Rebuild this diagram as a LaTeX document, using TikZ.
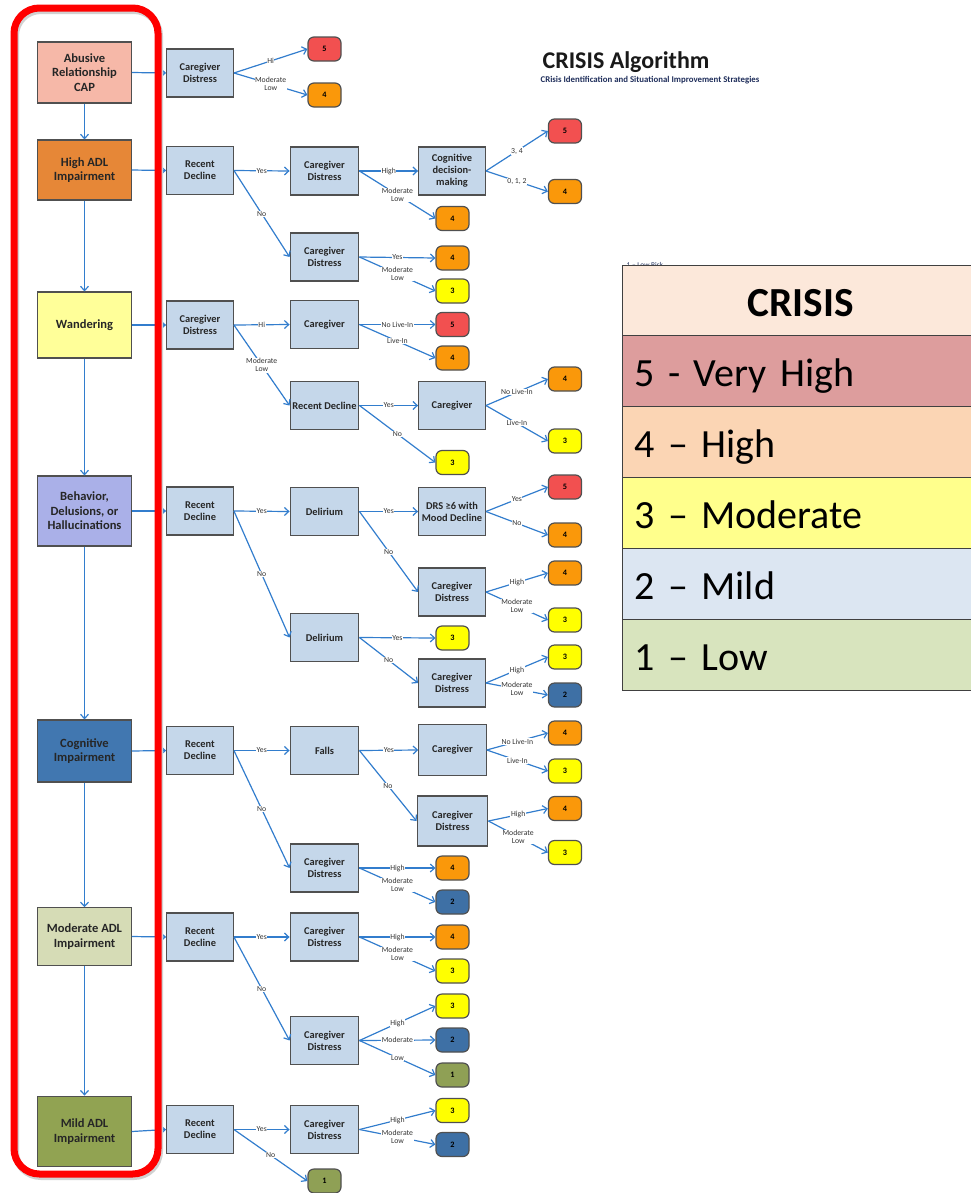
\documentclass[tikz,border=0pt]{standalone}
\usepackage{fontspec}
\setmainfont{Carlito}
\usetikzlibrary{arrows.meta}

% palette
\definecolor{qblue}{RGB}{197,215,234}
\definecolor{boxline}{RGB}{80,80,80}
\definecolor{flowblue}{RGB}{50,125,205}
\definecolor{framered}{RGB}{255,0,0}
\definecolor{cabuse}{RGB}{246,184,168}
\definecolor{chigh}{RGB}{230,135,55}
\definecolor{cwander}{RGB}{255,255,153}
\definecolor{cbehav}{RGB}{170,176,232}
\definecolor{ccogn}{RGB}{65,119,176}
\definecolor{cmod}{RGB}{214,220,182}
\definecolor{cmild}{RGB}{145,163,82}
\definecolor{sfive}{RGB}{242,80,80}
\definecolor{sfour}{RGB}{250,152,10}
\definecolor{sthree}{RGB}{255,255,0}
\definecolor{stwo}{RGB}{62,112,165}
\definecolor{sone}{RGB}{143,160,85}
\definecolor{lhead}{RGB}{252,232,218}
\definecolor{lfive}{RGB}{221,157,157}
\definecolor{lfour}{RGB}{251,213,180}
\definecolor{lthree}{RGB}{255,255,140}
\definecolor{ltwo}{RGB}{220,230,242}
\definecolor{lone}{RGB}{216,228,190}
\definecolor{navy}{RGB}{30,45,90}

\begin{document}
\begin{tikzpicture}[x=0.75pt,y=-0.75pt,
  qbox/.style={rectangle, draw=boxline, line width=0.9pt, fill=qblue,
    minimum width=50pt, minimum height=36pt, inner sep=1pt, align=center,
    font=\bfseries\fontsize{7.8}{8.9}\selectfont, text=black!85},
  widebox/.style={qbox, minimum width=51.5pt},
  catbox/.style={rectangle, draw=boxline, line width=0.9pt, minimum width=70pt,
    inner sep=1pt, align=center, font=\bfseries\fontsize{9.4}{10.8}\selectfont,
    text=black!85},
  score/.style={rectangle, rounded corners=4.5pt, draw=boxline, line width=0.9pt,
    minimum width=24.75pt, minimum height=18pt, inner sep=0pt,
    font=\bfseries\fontsize{6.2}{7}\selectfont},
  s5/.style={score, fill=sfive}, s4/.style={score, fill=sfour},
  s3/.style={score, fill=sthree}, s2/.style={score, fill=stwo},
  s1/.style={score, fill=sone},
  flow/.style={draw=flowblue, line width=0.9pt, -{Straight Barb[length=3.2pt,width=6pt]}},
  lbl/.style={fill=white, inner sep=0.4pt, align=center,
    font=\fontsize{5.8}{6}\selectfont, text=black!80},
  legrow/.style={rectangle, draw=black!75, line width=1.1pt, anchor=north west,
    minimum width=267pt, minimum height=53.25pt, inner xsep=9pt, inner ysep=0pt,
    text width=249pt, align=left, text height=24pt, text depth=0pt,
    font=\fontsize{30}{35}\selectfont}
]
\useasboundingbox (0,0) rectangle (971,1193);

% ---------- title ----------
\node[anchor=base, font=\bfseries\fontsize{18}{20}\selectfont, text=black!90] (title) at (626,68) {CRISIS Algorithm};
\node[anchor=base, font=\bfseries\fontsize{6.6}{7}\selectfont, text=navy] (subtitle) at (650,82) {CRisis Identification and Situational Improvement Strategies};

% ---------- category column ----------
\node[catbox, fill=cabuse, minimum height=45.75pt] (abuse) at (84.5,72.5) {Abusive\\Relationship\\CAP};
\node[catbox, fill=chigh, minimum height=45pt] (highadl) at (84.5,170) {High ADL\\Impairment};
\node[catbox, fill=cwander, minimum height=49.5pt] (wander) at (84.5,325) {Wandering};
\node[catbox, fill=cbehav, minimum height=52.5pt] (behav) at (84.5,511) {Behavior,\\Delusions, or\\Hallucinations};
\node[catbox, fill=ccogn, minimum height=46.5pt] (cogn) at (84.5,751) {Cognitive\\Impairment};
\node[catbox, fill=cmod, minimum height=43pt] (modadl) at (84.5,936.5) {Moderate ADL\\Impairment};
\node[catbox, fill=cmild, minimum height=53pt] (mildadl) at (84.5,1131.5) {Mild ADL\\Impairment};

\draw[flow] (abuse) -- (highadl);
\draw[flow] (highadl) -- (wander);
\draw[flow] (wander) -- (behav);
\draw[flow] (behav) -- (cogn);
\draw[flow] (cogn) -- (modadl);
\draw[flow] (modadl) -- (mildadl);

% ---------- second column ----------
\node[qbox] (cd1) at (200,73) {Caregiver\\Distress};
\node[qbox] (rd2) at (200,170.5) {Recent\\Decline};
\node[qbox] (cd3) at (200,325) {Caregiver\\Distress};
\node[qbox] (rd4) at (200,511) {Recent\\Decline};
\node[qbox] (rd5) at (200,750.5) {Recent\\Decline};
\node[qbox] (rd6) at (200,937) {Recent\\Decline};
\node[qbox] (rd7) at (200,1129.5) {Recent\\Decline};

\draw[flow] (abuse.east) -- (cd1.west);
\draw[flow] (highadl.east) -- (rd2.west);
\draw[flow] (wander.east) -- (cd3.west);
\draw[flow] (behav.east) -- (rd4.west);
\draw[flow] (cogn.east) -- (rd5.west);
\draw[flow] (modadl.east) -- (rd6.west);
\draw[flow] (mildadl.east) -- (rd7.west);

% ---------- third column ----------
\node[widebox] (cd2a) at (324.5,171) {Caregiver\\Distress};
\node[widebox] (cd2b) at (324.5,257) {Caregiver\\Distress};
\node[widebox] (cg3a) at (324.5,324.5) {Caregiver};
\node[widebox] (rd3b) at (324.5,405.5) {Recent Decline};
\node[widebox] (del4a) at (324.5,511.5) {Delirium};
\node[widebox] (del4b) at (324.5,637.5) {Delirium};
\node[widebox] (falls5) at (324.5,750.5) {Falls};
\node[widebox] (cd5b) at (324.5,868) {Caregiver\\Distress};
\node[widebox] (cd6a) at (324.5,937) {Caregiver\\Distress};
\node[widebox] (cd6b) at (324.5,1040.5) {Caregiver\\Distress};
\node[widebox] (cd7) at (324.5,1129.5) {Caregiver\\Distress};

% ---------- fourth column ----------
\node[qbox] (cdm2) at (452,171) {Cognitive\\decision-\\making};
\node[qbox] (cg3b) at (452,405.5) {Caregiver};
\node[qbox] (drs4) at (452,511.5) {DRS ≥6 with\\Mood Decline};
\node[qbox] (cd4a) at (452,592) {Caregiver\\Distress};
\node[qbox] (cd4b) at (452,683) {Caregiver\\Distress};
\node[qbox, minimum width=50.5pt, minimum height=38pt] (cg5a) at (452.5,750) {Caregiver};
\node[qbox, minimum width=53pt, minimum height=37.5pt] (cd5a) at (452.5,821) {Caregiver\\Distress};

% ---------- scores ----------
\node[s5] (r1a) at (324.5,49) {5};
\node[s4] (r1b) at (324.5,95) {4};
\node[s4] (r2c) at (452.5,218.5) {4};
\node[s4] (r2d) at (452.5,258) {4};
\node[s3] (r2e) at (452.5,291) {3};
\node[s5] (r3c) at (452.5,324.5) {5};
\node[s4] (r3d) at (452.5,358) {4};
\node[s3] (r3e) at (452.5,462.5) {3};
\node[s3] (r4e) at (452.5,638) {3};
\node[s4] (r5e) at (452.5,868) {4};
\node[s2] (r5f) at (452.5,902) {2};
\node[s4] (r6a) at (452.5,937) {4};
\node[s3] (r6b) at (452.5,971) {3};
\node[s3] (r6c) at (452.5,1006) {3};
\node[s2] (r6d) at (452.5,1040) {2};
\node[s1] (r6e) at (452.5,1075) {1};
\node[s3] (r7a) at (452.5,1110.5) {3};
\node[s2] (r7b) at (452.5,1144.5) {2};
\node[s1] (r7c) at (324.5,1181) {1};

\node[s5] (r2a) at (565,131) {5};
\node[s4] (r2b) at (565,191.5) {4};
\node[s4] (r3a) at (565,379) {4};
\node[s3] (r3b) at (565,441) {3};
\node[s5] (r4a) at (565,487) {5};
\node[s4] (r4b) at (565,535) {4};
\node[s4] (r4c) at (565,573) {4};
\node[s3] (r4d) at (565,620) {3};
\node[s3] (r4f) at (565,657) {3};
\node[s2] (r4g) at (565,695) {2};
\node[s4] (r5a) at (565,733) {4};
\node[s3] (r5b) at (565,771) {3};
\node[s4] (r5c) at (565,808.5) {4};
\node[s3] (r5d) at (565,852.5) {3};

% ---------- branches ----------
% abusive relationship
\draw[flow] (cd1.east) -- node[lbl]{Hi} (r1a.west);
\draw[flow] (cd1.east) -- node[lbl]{Moderate\\Low} (r1b.west);
% high ADL impairment
\draw[flow] (rd2.east) -- node[lbl]{Yes} (cd2a.west);
\draw[flow] (rd2.east) -- node[lbl]{No} (cd2b.west);
\draw[flow] (cd2a.east) -- node[lbl]{High} (cdm2.west);
\draw[flow] (cd2a.east) -- node[lbl]{Moderate\\Low} (r2c.west);
\draw[flow] (cdm2.east) -- node[lbl]{3, 4} (r2a.west);
\draw[flow] (cdm2.east) -- node[lbl]{0, 1, 2} (r2b.west);
\draw[flow] (cd2b.east) -- node[lbl]{Yes} (r2d.west);
\draw[flow] (cd2b.east) -- node[lbl]{Moderate\\Low} (r2e.west);
% wandering
\draw[flow] (cd3.east) -- node[lbl]{Hi} (cg3a.west);
\draw[flow] (cd3.east) -- node[lbl]{Moderate\\Low} (rd3b.west);
\draw[flow] (cg3a.east) -- node[lbl]{No Live-In} (r3c.west);
\draw[flow] (cg3a.east) -- node[lbl]{Live-In} (r3d.west);
\draw[flow] (rd3b.east) -- node[lbl]{Yes} (cg3b.west);
\draw[flow] (rd3b.east) -- node[lbl]{No} (r3e.west);
\draw[flow] (cg3b.east) -- node[lbl]{No Live-In} (r3a.west);
\draw[flow] (cg3b.east) -- node[lbl]{Live-In} (r3b.west);
% behavior, delusions, hallucinations
\draw[flow] (rd4.east) -- node[lbl]{Yes} (del4a.west);
\draw[flow] (rd4.east) -- node[lbl]{No} (del4b.west);
\draw[flow] (del4a.east) -- node[lbl]{Yes} (drs4.west);
\draw[flow] (del4a.east) -- node[lbl]{No} (cd4a.west);
\draw[flow] (drs4.east) -- node[lbl]{Yes} (r4a.west);
\draw[flow] (drs4.east) -- node[lbl]{No} (r4b.west);
\draw[flow] (cd4a.east) -- node[lbl]{High} (r4c.west);
\draw[flow] (cd4a.east) -- node[lbl]{Moderate\\Low} (r4d.west);
\draw[flow] (del4b.east) -- node[lbl]{Yes} (r4e.west);
\draw[flow] (del4b.east) -- node[lbl]{No} (cd4b.west);
\draw[flow] (cd4b.east) -- node[lbl]{High} (r4f.west);
\draw[flow] (cd4b.east) -- node[lbl]{Moderate\\Low} (r4g.west);
% cognitive impairment
\draw[flow] (rd5.east) -- node[lbl]{Yes} (falls5.west);
\draw[flow] (rd5.east) -- node[lbl]{No} (cd5b.west);
\draw[flow] (falls5.east) -- node[lbl]{Yes} (cg5a.west);
\draw[flow] (falls5.east) -- node[lbl]{No} (cd5a.west);
\draw[flow] (cg5a.east) -- node[lbl]{No Live-In} (r5a.west);
\draw[flow] (cg5a.east) -- node[lbl]{Live-In} (r5b.west);
\draw[flow] (cd5a.east) -- node[lbl]{High} (r5c.west);
\draw[flow] (cd5a.east) -- node[lbl]{Moderate\\Low} (r5d.west);
\draw[flow] (cd5b.east) -- node[lbl]{High} (r5e.west);
\draw[flow] (cd5b.east) -- node[lbl]{Moderate\\Low} (r5f.west);
% moderate ADL impairment
\draw[flow] (rd6.east) -- node[lbl]{Yes} (cd6a.west);
\draw[flow] (rd6.east) -- node[lbl]{No} (cd6b.west);
\draw[flow] (cd6a.east) -- node[lbl]{High} (r6a.west);
\draw[flow] (cd6a.east) -- node[lbl]{Moderate\\Low} (r6b.west);
\draw[flow] (cd6b.east) -- node[lbl]{High} (r6c.west);
\draw[flow] (cd6b.east) -- node[lbl]{Moderate} (r6d.west);
\draw[flow] (cd6b.east) -- node[lbl]{Low} (r6e.west);
% mild ADL impairment
\draw[flow] (rd7.east) -- node[lbl]{Yes} (cd7.west);
\draw[flow] (rd7.east) -- node[lbl]{No} (r7c.west);
\draw[flow] (cd7.east) -- node[lbl]{High} (r7a.west);
\draw[flow] (cd7.east) -- node[lbl]{Moderate\\Low} (r7b.west);

% ---------- highlight frame around the category column ----------
\draw[black!18, line width=5.25pt, rounded corners=19pt] (15.5,10.5) rectangle (159.5,1176.5);
\draw[framered, line width=5.25pt, rounded corners=19pt] (14,8) rectangle (158,1174);

% ---------- legend ----------
\node[anchor=base west, font=\fontsize{5.5}{6}\selectfont, text=navy] (lowrisk) at (622,267) {1 – Low Risk};
\node[legrow, fill=lhead, align=center, font=\bfseries\fontsize{31}{36}\selectfont] (lhdr) at (622,264.5) {CRISIS};
\node[legrow, fill=lfive] (lv5) at (622,334.5) {5 - Very High};
\node[legrow, fill=lfour] (lv4) at (622,405.5) {4 – High};
\node[legrow, fill=lthree] (lv3) at (622,476.5) {3 – Moderate};
\node[legrow, fill=ltwo] (lv2) at (622,547.5) {2 – Mild};
\node[legrow, fill=lone] (lv1) at (622,618.5) {1 – Low};

\end{tikzpicture}
\end{document}
